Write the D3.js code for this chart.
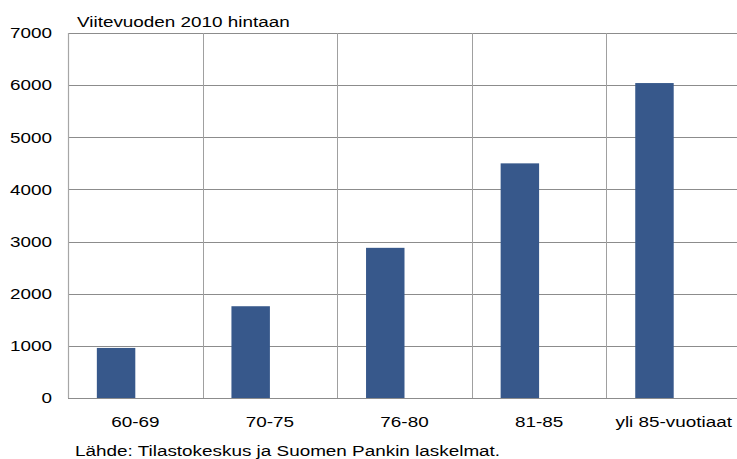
<!DOCTYPE html>
<html>
<head>
<meta charset="utf-8">
<script src="https://cdn.jsdelivr.net/npm/d3@7/dist/d3.min.js"></script>
<style>
  html, body { margin: 0; padding: 0; background: #fff; }
  svg { display: block; }
  text { font-family: "Liberation Sans", Arial, sans-serif; fill: #000; }
</style>
</head>
<body>
<svg id="chart" width="737" height="459"></svg>
<script>
// Ikäryhmät ja arvot (euroa, viitevuoden 2010 hintaan)
const categories = ["60-69", "70-75", "76-80", "81-85", "yli 85-vuotiaat"];
const values = [960, 1760, 2880, 4500, 6040];
const yTicks = [0, 1000, 2000, 3000, 4000, 5000, 6000, 7000];
const unitLabel = "Viitevuoden 2010 hintaan";
const sourceLabel = "Lähde: Tilastokeskus ja Suomen Pankin laskelmat.";

const svg = d3.select("#chart");
const plotLeft = 68, plotRight = 741, plotTop = 33, plotBottom = 398;
const fontSize = 15;
const stretch = 1.26;   // wide lettering

const x = d3.scaleBand().domain(categories).range([plotLeft, plotRight]).padding(0);
// Each category holds two slots (second one empty), gap width 150 %
const slot = d3.scaleBand().domain(["a", "b"]).range([0, x.bandwidth()])
  .paddingInner(0).paddingOuter(0.75);
const y = d3.scaleLinear().domain([0, 7000]).range([plotBottom, plotTop]);

// Horizontal gridlines
svg.append("g")
  .selectAll("line")
  .data(yTicks.filter(d => d > 0))
  .join("line")
  .attr("x1", plotLeft).attr("x2", plotRight)
  .attr("y1", d => Math.round(y(d)) + 0.5).attr("y2", d => Math.round(y(d)) + 0.5)
  .attr("stroke", "#8c8c8c").attr("stroke-width", 1);

// Vertical category separators
svg.append("g")
  .selectAll("line")
  .data(categories.slice(1))
  .join("line")
  .attr("x1", d => Math.round(x(d)) + 0.5).attr("x2", d => Math.round(x(d)) + 0.5)
  .attr("y1", plotTop).attr("y2", plotBottom)
  .attr("stroke", "#a0a0a0").attr("stroke-width", 1);

// Y axis line
svg.append("line")
  .attr("x1", plotLeft + 0.5).attr("x2", plotLeft + 0.5)
  .attr("y1", plotTop).attr("y2", plotBottom)
  .attr("stroke", "#a6a6a6").attr("stroke-width", 1.2);

// Bars
svg.append("g")
  .selectAll("rect")
  .data(values)
  .join("rect")
  .attr("x", (d, i) => x(categories[i]) + slot("a"))
  .attr("width", slot.bandwidth())
  .attr("y", d => y(d))
  .attr("height", d => y(0) - y(d))
  .attr("fill", "#37588b");

// X axis baseline
svg.append("line")
  .attr("x1", plotLeft).attr("x2", plotRight)
  .attr("y1", plotBottom + 0.5).attr("y2", plotBottom + 0.5)
  .attr("stroke", "#8c8c8c").attr("stroke-width", 1.2);

// Y tick labels
const yAxis = d3.axisLeft(y).tickValues(yTicks).tickSize(0).tickPadding(16)
  .tickFormat(d3.format("d"));
const gy = svg.append("g").attr("transform", `translate(${plotLeft},0)`).call(yAxis);
gy.select(".domain").remove();
gy.selectAll("text")
  .attr("font-size", fontSize)
  .attr("font-family", "Liberation Sans, Arial, sans-serif")
  .attr("x", -16 / stretch)
  .attr("transform", `scale(${stretch},1)`);

// Category labels
const xAxis = d3.axisBottom(x).tickSize(0).tickPadding(18);
const gx = svg.append("g").attr("transform", `translate(0,${plotBottom})`).call(xAxis);
gx.select(".domain").remove();
gx.selectAll("text")
  .attr("font-size", fontSize)
  .attr("font-family", "Liberation Sans, Arial, sans-serif")
  .attr("transform", `scale(${stretch},1)`);

// Unit and source notes
svg.append("text")
  .attr("transform", `translate(77,26.5) scale(${stretch},1)`)
  .attr("font-size", fontSize).text(unitLabel);
svg.append("text")
  .attr("transform", `translate(75,456) scale(${stretch},1)`)
  .attr("font-size", fontSize).text(sourceLabel);
</script>
</body>
</html>
